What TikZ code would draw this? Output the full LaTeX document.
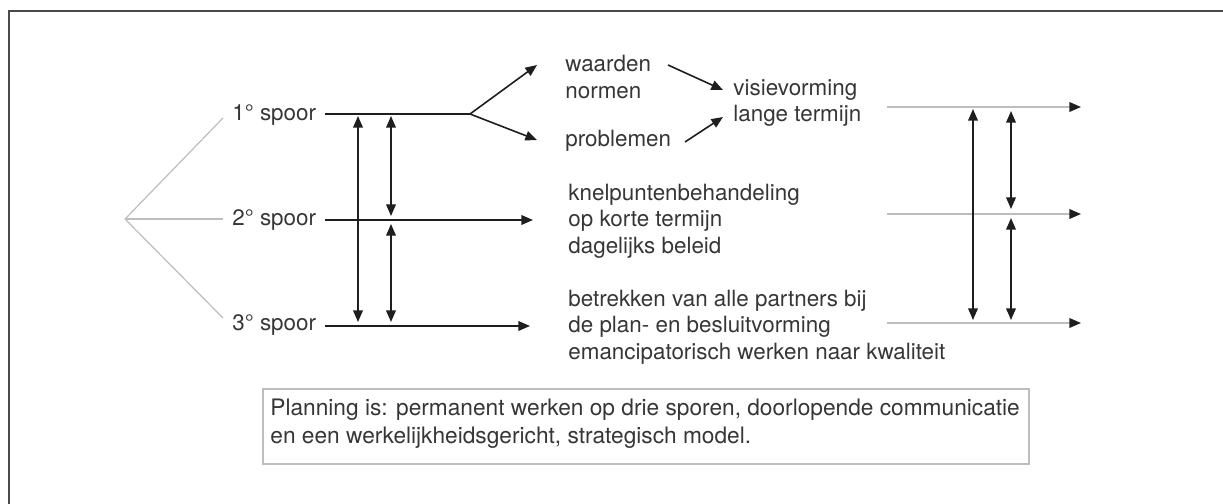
\documentclass[tikz,border=0pt]{standalone}
\usepackage{fontspec}
\setmainfont{TeX Gyre Heros}
\usetikzlibrary{arrows.meta}
\definecolor{txt}{HTML}{363636}
\definecolor{ln}{HTML}{1E1E1E}
\definecolor{lgray}{HTML}{BDBDBD}
\definecolor{framec}{HTML}{4A4A4A}
\tikzset{
  lbl/.style={inner sep=0pt, anchor=west, text=txt, font=\fontsize{11.2}{13.3}\selectfont, align=left},
  conn/.style={draw=ln, line width=0.8pt},
  arr/.style={conn, -{Triangle[length=5.8pt,width=4.8pt]}},
  darr/.style={conn, {Triangle[length=5.8pt,width=4.8pt]}-{Triangle[length=5.8pt,width=4.8pt]}},
  fanline/.style={draw=lgray, line width=0.6pt},
  garr/.style={draw=lgray, line width=0.8pt, -{Triangle[length=5.8pt,width=4.8pt,color=ln]}},
  boxst/.style={draw=lgray, line width=1pt, inner sep=0pt,
    minimum width=383pt, minimum height=37.5pt, anchor=north west},
  boxtext/.style={inner sep=0pt, anchor=west, text=txt, font=\fontsize{11.35}{14}\selectfont, align=left},
}
\begin{document}
\begin{tikzpicture}[x=0.5pt,y=-0.5pt]
\useasboundingbox (0,0) rectangle (1223,504);
% frame
\coordinate (fbl) at (9,504);
\coordinate (ftl) at (9,10.5);
\coordinate (ftr) at (1223,10.5);
\draw[framec, line width=1pt] (fbl) -- (ftl) -- (ftr);

% fan
\coordinate (fan) at (125,219);
\coordinate (f1) at (223,118);
\coordinate (f2) at (223,219);
\coordinate (f3) at (223,318);
\draw[fanline] (fan) -- (f1);
\draw[fanline] (fan) -- (f2);
\draw[fanline] (fan) -- (f3);

% labels
\node[lbl] (s1) at (232,115) {1° spoor};
\node[lbl] (s2) at (232,220) {2° spoor};
\node[lbl] (s3) at (232,325) {3° spoor};

\node[lbl] (wn) at (565,77) {waarden\\normen};
\node[lbl] (pr) at (565,141) {problemen};
\node[lbl] (vl) at (733,103) {visievorming\\lange termijn};
\node[lbl] (kn) at (568,221) {knelpuntenbehandeling\\op korte termijn\\dagelijks beleid};
\node[lbl] (be) at (568,327) {betrekken van alle partners bij\\de plan- en besluitvorming\\emancipatorisch werken naar kwaliteit};

% track 1
\coordinate (a1) at (325,114);
\coordinate (fork) at (470,114);
\coordinate (tw) at (537,65);
\coordinate (tp) at (537,140);
\draw[conn] (a1) -- (fork);
\draw[arr] (fork) -- (tw);
\draw[arr] (fork) -- (tp);
% track 2,3
\coordinate (a2) at (325,220);
\coordinate (b2) at (533,220);
\coordinate (a3) at (325,326);
\coordinate (b3) at (530,326);
\draw[arr] (a2) -- (b2);
\draw[arr] (a3) -- (b3);

% left verticals
\coordinate (l1t) at (358,116);
\coordinate (l1b) at (358,322);
\draw[darr] (l1t) -- (l1b);
\coordinate (l2t) at (391,116);
\coordinate (l2m1) at (391,216);
\coordinate (l2m2) at (391,224);
\coordinate (l2b) at (391,322);
\draw[darr] (l2t) -- (l2m1);
\draw[darr] (l2m2) -- (l2b);

% top arrows to visievorming
\coordinate (wa) at (668,65);
\coordinate (wb) at (723,90);
\coordinate (pa) at (685,142);
\coordinate (pb) at (723,117);
\draw[arr] (wa) -- (wb);
\draw[arr] (pa) -- (pb);

% right lines
\coordinate (r1a) at (887,107);
\coordinate (r1b) at (1081,107);
\coordinate (r2a) at (887,214);
\coordinate (r2b) at (1081,214);
\coordinate (r3a) at (887,323);
\coordinate (r3b) at (1081,323);
\draw[garr] (r1a) -- (r1b);
\draw[garr] (r2a) -- (r2b);
\draw[garr] (r3a) -- (r3b);

% right verticals
\coordinate (q1t) at (973,109);
\coordinate (q1b) at (973,320);
\draw[darr] (q1t) -- (q1b);
\coordinate (q2t) at (1011,111);
\coordinate (q2m1) at (1011,209);
\coordinate (q2m2) at (1011,218);
\coordinate (q2b) at (1011,320);
\draw[darr] (q2t) -- (q2m1);
\draw[darr] (q2m2) -- (q2b);

% summary box
\node[boxst] (box) at (262,388) {};
\node[boxtext] (boxt) at (270,424) {Planning is: permanent werken op drie sporen, doorlopende communicatie\\en een werkelijkheidsgericht, strategisch model.};
\end{tikzpicture}
\end{document}
